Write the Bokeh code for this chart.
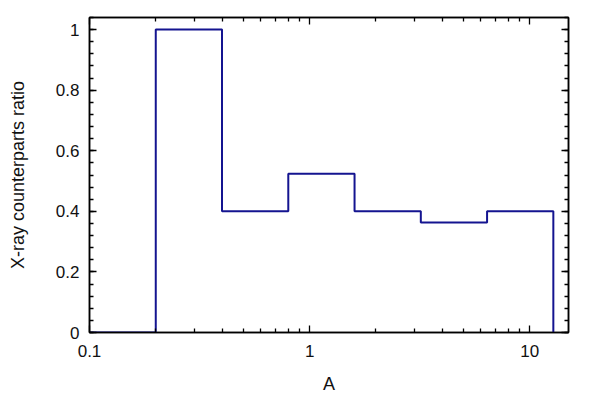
import numpy as np
from bokeh.plotting import figure
from bokeh.models import (LogAxis, LinearAxis, FixedTicker, CustomJSTickFormatter, Range1d)
from bokeh.embed import file_html
from bokeh.resources import INLINE

# Data
bin_edges = [0.1, 0.2, 0.4, 0.8, 1.6, 3.2, 6.4, 12.8]
ratios = [0.0, 1.0, 0.4, 0.524, 0.4, 0.363, 0.4]
x_major = [0.1, 1, 10]
x_minor = [0.2, 0.3, 0.4, 0.5, 0.6, 0.7, 0.8, 0.9, 2, 3, 4, 5, 6, 7, 8, 9]
y_major = [0, 0.2, 0.4, 0.6, 0.8, 1.0]
y_minor = [round(i * 0.04, 2) for i in range(27)]

# Build step path from edges/values
xs, ys = [], []
for i, v in enumerate(ratios):
    xs += [bin_edges[i], bin_edges[i + 1]]
    ys += [v, v]
xs.append(bin_edges[-1])
ys.append(0.0)

FONT = "Liberation Sans"

p = figure(width=592, height=396, x_axis_type="log",
           x_range=Range1d(0.1, 15.0), y_range=Range1d(0, 1.04),
           output_backend="svg", toolbar_location=None,
           min_border_left=89, min_border_top=17, min_border_right=24, min_border_bottom=64)
p.xgrid.visible = False
p.ygrid.visible = False
p.outline_line_color = "black"
p.outline_line_width = 1.5

p.line(xs, ys, line_color="#141490", line_width=2)

fmt = CustomJSTickFormatter(code="return Number(tick.toFixed(3)).toString();")
blank = CustomJSTickFormatter(code="return '';")

def style(ax):
    ax.major_tick_in = 7
    ax.major_tick_out = 0
    ax.minor_tick_in = 4
    ax.minor_tick_out = 0
    ax.axis_line_width = 1.5
    ax.axis_line_color = "black"
    ax.major_tick_line_color = "black"
    ax.minor_tick_line_color = "black"
    ax.major_tick_line_width = 1.3
    ax.minor_tick_line_width = 1.3
    ax.major_label_text_font = FONT
    ax.major_label_text_font_size = "17px"
    ax.major_label_text_color = "#111111"
    ax.axis_label_text_font = FONT
    ax.axis_label_text_font_size = "18px"
    ax.axis_label_text_font_style = "normal"
    ax.axis_label_text_color = "#111111"

xt = FixedTicker(ticks=x_major, minor_ticks=x_minor)
yt = FixedTicker(ticks=y_major, minor_ticks=y_minor)

p.xaxis.ticker = xt
p.xaxis.formatter = fmt
p.xaxis.axis_label = "A"
p.xaxis.major_label_standoff = 12
p.xaxis.axis_label_standoff = 14
style(p.xaxis[0])

p.yaxis.ticker = yt
p.yaxis.formatter = fmt
p.yaxis.axis_label = "X-ray counterparts ratio"
p.yaxis.major_label_standoff = 10
p.yaxis.axis_label_standoff = 25
style(p.yaxis[0])

top = LogAxis(ticker=FixedTicker(ticks=x_major, minor_ticks=x_minor), formatter=blank)
style(top)
p.add_layout(top, "above")
right = LinearAxis(ticker=FixedTicker(ticks=y_major, minor_ticks=y_minor), formatter=blank)
style(right)
p.add_layout(right, "right")

open("out.html", "w").write(file_html(p, INLINE))
